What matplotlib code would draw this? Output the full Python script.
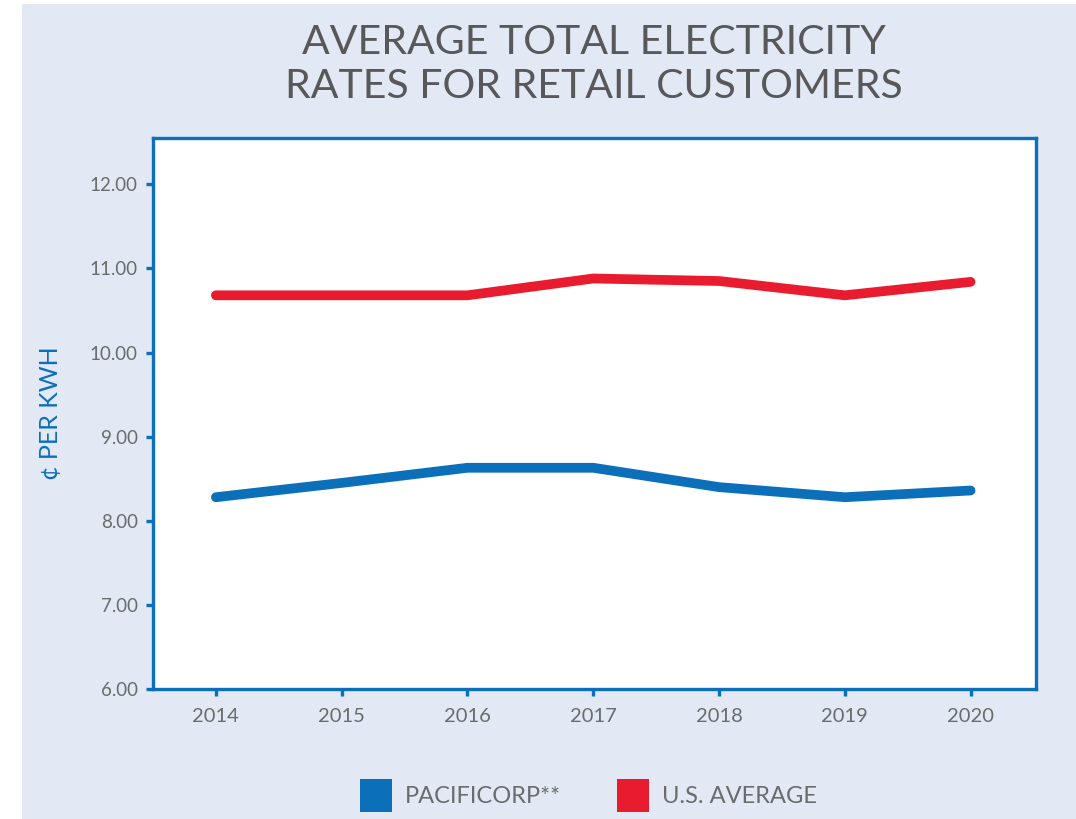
import matplotlib.pyplot as plt
from matplotlib.patches import Rectangle, Patch

years = [2014, 2015, 2016, 2017, 2018, 2019, 2020]
pacificorp = [8.28, 8.45, 8.63, 8.63, 8.40, 8.28, 8.36]
us_average = [10.68, 10.68, 10.68, 10.88, 10.85, 10.68, 10.84]
y_ticks = [6, 7, 8, 9, 10, 11, 12]

BLUE = '#0b6fba'
RED = '#e81c2e'
BG = '#e2e8f4'
GRAY = '#6b6b6b'

plt.rcParams['font.family'] = ['Lato', 'DejaVu Sans']

fig = plt.figure(figsize=(10.76, 8.19), dpi=100, facecolor='white')
fig.patches.append(Rectangle((22 / 1076, 0), 1, 1 - 4 / 819,
                             transform=fig.transFigure, facecolor=BG,
                             edgecolor='none', zorder=-10))

ax = fig.add_axes([0.1422, 0.1587, 0.8206, 0.6728])
ax.set_facecolor('white')

ax.plot(years, pacificorp, color=BLUE, lw=7, solid_capstyle='round',
        solid_joinstyle='round', label='PACIFICORP**')
ax.plot(years, us_average, color=RED, lw=7, solid_capstyle='round',
        solid_joinstyle='round', label='U.S. AVERAGE')

ax.set_xlim(2013.5, 2020.52)
ax.set_ylim(6, 12.55)
ax.set_xticks(years)
ax.set_yticks(y_ticks)
ax.set_yticklabels(['%.2f' % v for v in y_ticks])

for s in ax.spines.values():
    s.set_color(BLUE)
    s.set_linewidth(2.4)
ax.tick_params(axis='both', colors=BLUE, length=5, width=2.4,
               labelcolor=GRAY)
ax.tick_params(axis='x', pad=9, labelsize=14.5)
ax.tick_params(axis='y', pad=6, labelsize=13.5)

ax.set_ylabel('¢ PER KWH', color=BLUE, fontsize=18, labelpad=20)

fig.text(0.552, 0.921, 'AVERAGE TOTAL ELECTRICITY\nRATES FOR RETAIL CUSTOMERS',
         ha='center', va='center', fontsize=29.5, color='#58585a',
         linespacing=1.25)

handles = [Patch(facecolor=BLUE, edgecolor='none', label='PACIFICORP**'),
           Patch(facecolor=RED, edgecolor='none', label='U.S. AVERAGE')]
leg = fig.legend(handles=handles, loc='center', bbox_to_anchor=(0.547, 0.029),
                 ncol=2, frameon=False, fontsize=17, handlelength=1.35,
                 handleheight=1.75, handletextpad=0.55, columnspacing=2.4)
for t in leg.get_texts():
    t.set_color(GRAY)

fig.savefig('out.png', dpi=100, facecolor=fig.get_facecolor())
